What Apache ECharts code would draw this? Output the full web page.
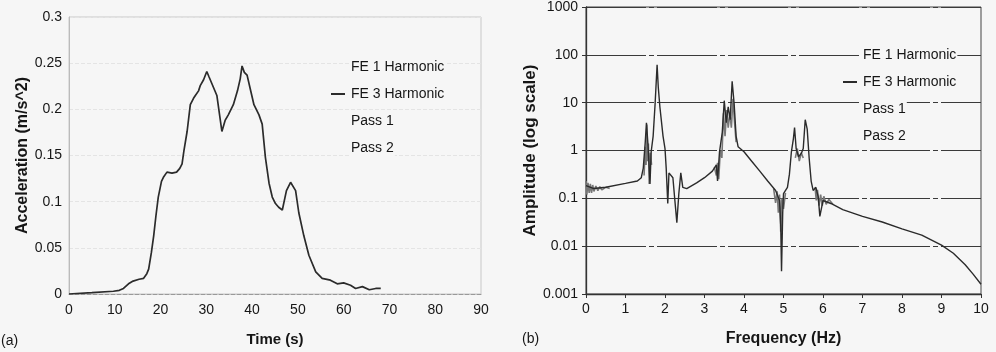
<!DOCTYPE html>
<html><head><meta charset="utf-8">
<script src="https://cdn.jsdelivr.net/npm/echarts@6/dist/echarts.min.js"></script>
<style>html,body{margin:0;padding:0;background:#f6f6f6;}#c{width:996px;height:352px;}</style>
</head><body><div id="c"></div>
<script>
// ---- Chart (a): acceleration vs time ----
const timeS = [0,5,9.7,11,11.9,13,14,15.3,16.3,17,17.4,18,18.5,19,19.5,20.2,20.7,21.4,22.5,23.5,24.2,24.7,25.1,25.8,26.5,27.2,27.6,28.3,28.7,29.4,30.1,30.6,31.2,32.3,33.4,34.1,34.8,35.9,36.8,37.4,37.8,38.3,38.9,39.6,40.4,41.5,42.2,42.9,43.7,44.4,45.1,45.8,46.6,47.5,48.4,49.5,50.2,51.3,52.4,53.9,55.3,57.1,58.6,60,61.5,62.6,64.1,65.6,67,68.1];
const accel = [0,0.0015,0.003,0.004,0.006,0.011,0.014,0.016,0.017,0.022,0.027,0.045,0.063,0.085,0.105,0.122,0.127,0.132,0.131,0.132,0.136,0.141,0.155,0.176,0.205,0.212,0.215,0.22,0.226,0.232,0.241,0.235,0.228,0.215,0.176,0.188,0.194,0.205,0.22,0.233,0.247,0.24,0.237,0.222,0.205,0.194,0.184,0.148,0.12,0.105,0.098,0.094,0.091,0.112,0.121,0.112,0.088,0.063,0.042,0.024,0.017,0.015,0.011,0.012,0.0095,0.006,0.008,0.0046,0.006,0.006];
const timeTicks = [0,90,10];
const accelTicks = [0,0.3,0.05];

// ---- Chart (b): amplitude vs frequency ----
const freqHz = [0,0.2,0.5,1.0,1.3,1.4,1.45,1.5,1.53,1.57,1.62,1.65,1.7,1.75,1.8,1.83,1.87,1.95,2.0,2.03,2.07,2.1,2.2,2.25,2.3,2.35,2.4,2.45,2.55,2.8,3.0,3.2,3.3,3.33,3.38,3.45,3.5,3.55,3.6,3.65,3.7,3.75,3.8,3.85,4.0,4.2,4.4,4.6,4.8,4.9,4.93,4.95,4.98,5.0,5.1,5.15,5.2,5.25,5.28,5.32,5.38,5.45,5.5,5.55,5.6,5.65,5.7,5.75,5.82,5.88,5.92,6.0,6.2,6.5,7.0,7.5,8.0,8.5,9.0,9.3,9.6,9.8,10];
const amplitude = [0.185,0.16,0.17,0.205,0.23,0.27,0.43,1.5,3.8,1.3,0.2,0.94,2,9.6,62,21,8.2,2,1.1,0.43,0.078,0.34,0.27,0.09,0.031,0.125,0.34,0.17,0.16,0.21,0.27,0.37,0.5,0.23,0.94,2.4,11,3.8,8.2,4.4,28,9.6,2,1.2,0.94,0.59,0.37,0.23,0.146,0.09,0.027,0.003,0.05,0.125,0.17,0.32,0.94,1.75,3.0,1.1,0.74,0.87,1.1,4.4,2.8,0.69,0.23,0.146,0.17,0.107,0.042,0.09,0.078,0.058,0.042,0.032,0.023,0.017,0.0105,0.0071,0.0041,0.0026,0.0016];
// grey scatter band (Pass 1)
const bandSeg1 = [[0,0.23],[0.02,0.12],[0.05,0.21],[0.08,0.13],[0.11,0.2],[0.14,0.13],[0.17,0.19],[0.2,0.14],[0.25,0.18],[0.3,0.145],[0.35,0.175],[0.4,0.15],[0.5,0.17],[0.6,0.16]];
const bandSeg2 = [[1.47,0.3],[1.5,1.2],[1.52,0.5],[1.54,3.5],[1.56,0.6],[1.58,1.4],[1.6,0.2],[1.63,0.9],[1.66,0.5]];
const bandSeg3 = [[3.25,0.45],[3.3,0.3],[3.33,0.55],[3.36,0.25],[3.4,1.0],[3.44,0.7],[3.48,6],[3.52,2],[3.56,7],[3.6,3],[3.64,6],[3.68,3],[3.72,12],[3.76,4],[3.8,1.5]];
const bandSeg4 = [[4.75,0.16],[4.8,0.08],[4.84,0.14],[4.87,0.05],[4.9,0.12],[4.93,0.02],[4.96,0.1],[5.0,0.06],[5.05,0.13]];
const bandSeg5 = [[5.3,0.7],[5.35,1.1],[5.4,0.6],[5.45,0.9],[5.5,0.7]];
const bandSeg6 = [[5.8,0.17],[5.83,0.09],[5.86,0.15],[5.9,0.07],[5.94,0.12],[5.98,0.07],[6.02,0.11],[6.08,0.075],[6.15,0.095],[6.25,0.075]];
const freqTicks = [0,10,1];
const ampRange = [0.001,1000];

const legendNames = ['FE 1 Harmonic','FE 3 Harmonic','Pass 1','Pass 2'];

const FONT = 'Liberation Sans, Arial, sans-serif';
const ink = '#161616';
const chart = echarts.init(document.getElementById('c'), null, {renderer:'canvas'});

function legendData(){
  return legendNames.map(n => n === 'FE 3 Harmonic'
    ? {name:n, icon:'rect'}
    : {name:n, icon:'none'});
}
const legendText = {fontFamily:FONT, fontSize:14, color:ink, backgroundColor:'#f6f6f6', padding:[1,1]};

const option = {
  backgroundColor:'#f6f6f6',
  animation:false,
  textStyle:{fontFamily:FONT},
  grid:[
    {left:69, top:17, width:412, height:282, show:true, borderColor:'#c8c8c8', borderWidth:1, backgroundColor:'transparent'},
    {left:586, top:1, width:395, height:296, show:true, borderColor:'#444', borderWidth:1, backgroundColor:'transparent'}
  ],
  legend:[
    {orient:'vertical', left:331, top:59, itemWidth:14, itemHeight:2, itemGap:11, padding:0,
     data:legendData(), textStyle:legendText, selectedMode:false},
    {orient:'vertical', left:843, top:47, itemWidth:14, itemHeight:2, itemGap:11, padding:0,
     data:legendData(), textStyle:legendText, selectedMode:false}
  ],
  xAxis:[
    {gridIndex:0, type:'value', min:timeTicks[0], max:timeTicks[1], interval:timeTicks[2],
     name:'Time (s)', nameLocation:'middle', nameGap:38,
     nameTextStyle:{fontFamily:FONT, fontSize:15, fontWeight:'bold', color:ink},
     axisLine:{lineStyle:{color:'#999', type:'dashed'}}, axisTick:{show:false},
     axisLabel:{fontFamily:FONT, fontSize:14, color:ink, margin:9},
     splitLine:{show:false}},
    {gridIndex:1, type:'value', min:freqTicks[0], max:freqTicks[1], interval:freqTicks[2],
     name:'Frequency (Hz)', nameLocation:'middle', nameGap:37,
     nameTextStyle:{fontFamily:FONT, fontSize:16, fontWeight:'bold', color:ink},
     axisLine:{lineStyle:{color:'#333', width:1.3}}, axisTick:{show:true, length:4, lineStyle:{color:'#333'}},
     axisLabel:{fontFamily:FONT, fontSize:14, color:ink, margin:8},
     splitLine:{show:false}}
  ],
  yAxis:[
    {gridIndex:0, type:'value', min:accelTicks[0], max:accelTicks[1], interval:accelTicks[2],
     name:'Acceleration (m/s^2)', nameLocation:'middle', nameGap:38,
     nameTextStyle:{fontFamily:FONT, fontSize:16, fontWeight:'bold', color:ink},
     axisLine:{show:true, lineStyle:{color:'#bbb'}}, axisTick:{show:false},
     axisLabel:{fontFamily:FONT, fontSize:14, color:ink, margin:7, formatter:v=>String(+v.toFixed(2))},
     splitLine:{show:true, lineStyle:{color:'#e4e4e4', type:'dashed'}}},
    {gridIndex:1, type:'log', logBase:10, min:ampRange[0], max:ampRange[1],
     name:'Amplitude (log scale)', nameLocation:'middle', nameGap:44,
     nameTextStyle:{fontFamily:FONT, fontSize:17, fontWeight:'bold', color:ink},
     axisLine:{show:true, lineStyle:{color:'#333', width:1.3}}, axisTick:{show:true, length:4, lineStyle:{color:'#333'}},
     axisLabel:{fontFamily:FONT, fontSize:14, color:ink, margin:8, formatter:v=>String(v)},
     splitLine:{show:true, lineStyle:{color:'#3a3a3a', width:1.2, type:[60,3,5,3]}},
     minorTick:{show:false}}
  ],
  series:[
    {type:'line', name:'FE 3 Harmonic', xAxisIndex:0, yAxisIndex:0, showSymbol:false, smooth:false,
     lineStyle:{color:'#2b2b2b', width:1.7}, itemStyle:{color:'#2b2b2b'},
     data: timeS.map((t,i)=>[t, accel[i]])},
    {type:'line', name:'FE 1 Harmonic', xAxisIndex:0, yAxisIndex:0, data:[], itemStyle:{color:'#ccc'}},
    {type:'line', name:'Pass 2', xAxisIndex:0, yAxisIndex:0, data:[], itemStyle:{color:'#ccc'}},
    ...[bandSeg1,bandSeg2,bandSeg3,bandSeg4,bandSeg5,bandSeg6].map(seg => ({
      type:'line', name:'Pass 1', xAxisIndex:1, yAxisIndex:1, showSymbol:false,
      lineStyle:{color:'#777', width:1.6}, itemStyle:{color:'#777'}, data:seg})),
    {type:'line', name:'FE 3 Harmonic', xAxisIndex:1, yAxisIndex:1, showSymbol:false,
     lineStyle:{color:'#2b2b2b', width:1.4}, itemStyle:{color:'#2b2b2b'},
     data: freqHz.map((f,i)=>[f, amplitude[i]])}
  ],
  graphic:[
    {type:'text', left:1, top:334, style:{text:'(a)', font:'14px '+FONT, fill:ink}},
    {type:'text', left:522, top:332, style:{text:'(b)', font:'14px '+FONT, fill:ink}}
  ]
};
chart.setOption(option);
</script></body></html>
